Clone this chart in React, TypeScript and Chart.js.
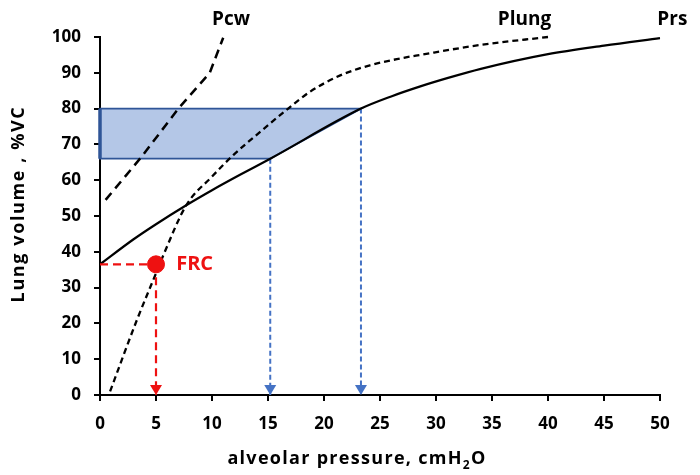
import React, { useEffect, useRef } from "react";
import { Chart, registerables } from "chart.js";

Chart.register(...registerables);

// ---- Data (pressure in cmH2O, volume in %VC) ----
const prsPressure = [0, 3, 5, 7.7, 10, 12.5, 15.2, 23.3, 26, 28.6, 31, 34, 40, 45, 50];
const prsVolume = [36.5, 43.5, 47.7, 53, 57.2, 61.5, 66, 80, 83.4, 86.2, 88.5, 91.1, 95.2, 97.6, 99.7];

const pcwPressure = [0.5, 3.7, 7, 9.8, 11];
const pcwVolume = [54.5, 66.5, 80, 90, 99.8];

const plungPressure = [0.9, 3.3, 5, 5.65, 7.7, 10, 11.9, 14.3, 16.8, 18.75, 21.4, 24.1, 26.8, 28.6, 34, 40];
const plungVolume = [1, 21, 34, 39, 53, 61, 67, 73.5, 80, 84.7, 89.2, 92.1, 94, 95, 97.8, 100];

// Shaded region between 66 and 80 %VC bounded by Prs
const areaPressure = [0, 23.3, 15.2, 0, 0];
const areaVolume = [80, 80, 66, 66, 80];

const frcPressure = 5;
const frcVolume = 36.5;
const lowPressure = 15.2;
const lowVolume = 66;
const highPressure = 23.3;
const highVolume = 80;

const curveNames = ["Pcw", "Plung", "Prs"];
const xTickValues = [0, 5, 10, 15, 20, 25, 30, 35, 40, 45, 50];
const yTickValues = [0, 10, 20, 30, 40, 50, 60, 70, 80, 90, 100];

const xTitle = ["alveolar pressure, cmH", "2", "O"];
const yTitle = "Lung volume , %VC";
const frcLabel = "FRC";

const FONT = "'Open Sans', 'Noto Sans', 'Liberation Sans', sans-serif";

const zip = (xs: number[], ys: number[]) => xs.map((x, i) => ({ x, y: ys[i] }));

const annotationPlugin = {
  id: "customAnnotations",
  afterDatasetsDraw(chart: any) {
    const ctx = chart.ctx;
    chart.data.datasets.forEach((ds: any, i: number) => {
      if (!ds.arrowHead) return;
      const meta = chart.getDatasetMeta(i);
      const pt = meta.data[meta.data.length - 1];
      if (!pt) return;
      const w = 6, h = 10;
      ctx.save();
      ctx.fillStyle = ds.borderColor;
      ctx.beginPath();
      ctx.moveTo(pt.x, pt.y);
      ctx.lineTo(pt.x - w, pt.y - h);
      ctx.lineTo(pt.x + w, pt.y - h);
      ctx.closePath();
      ctx.fill();
      ctx.restore();
    });
  },
  afterDraw(chart: any) {
    const ctx = chart.ctx;
    const xs = chart.scales.x;
    const ys = chart.scales.y;
    const opts = chart.options.plugins.customAnnotations;
    ctx.save();
    // curve labels
    ctx.font = `bold 19px ${FONT}`;
    ctx.fillStyle = "#000";
    ctx.textAlign = "center";
    ctx.textBaseline = "middle";
    opts.curveLabels.forEach((l: any, i: number) => {
      ctx.fillText(curveNames[i], xs.getPixelForValue(l.x), ys.getPixelForValue(l.y));
    });
    // FRC label
    ctx.fillStyle = "#ee1111";
    ctx.font = `bold 20px ${FONT}`;
    ctx.textAlign = "left";
    ctx.fillText(frcLabel, xs.getPixelForValue(opts.frcLabel.x), ys.getPixelForValue(opts.frcLabel.y));
    // x title with subscript
    ctx.fillStyle = "#000";
    (ctx as any).letterSpacing = "1.3px";
    const big = `bold 18px ${FONT}`;
    const small = `bold 12px ${FONT}`;
    ctx.font = big;
    const w0 = ctx.measureText(xTitle[0]).width;
    const w2 = ctx.measureText(xTitle[2]).width;
    ctx.font = small;
    const w1 = ctx.measureText(xTitle[1]).width;
    const total = w0 + w1 + w2;
    let sx = opts.xTitle.cx - total / 2;
    const by = opts.xTitle.baseline;
    ctx.textAlign = "left";
    ctx.textBaseline = "alphabetic";
    ctx.font = big;
    ctx.fillText(xTitle[0], sx, by);
    sx += w0;
    ctx.font = small;
    ctx.fillText(xTitle[1], sx, by + 5);
    sx += w1;
    ctx.font = big;
    ctx.fillText(xTitle[2], sx, by);
    // y title
    (ctx as any).letterSpacing = "1.6px";
    ctx.translate(opts.yTitle.cx, opts.yTitle.cy);
    ctx.rotate(-Math.PI / 2);
    ctx.font = big;
    ctx.textAlign = "center";
    ctx.textBaseline = "middle";
    ctx.fillText(yTitle, 0, 0);
    ctx.restore();
  },
};

export default function App() {
  const canvasRef = useRef<HTMLCanvasElement | null>(null);

  useEffect(() => {
    document.body.style.margin = "0";
    const canvas = canvasRef.current;
    if (!canvas) return;

    const blue = "#4472c4";
    const darkBlue = "#2f5597";
    const red = "#ee1111";

    const chart = new Chart(canvas, {
      type: "scatter",
      data: {
        datasets: [
          {
            label: "FRC point",
            data: [{ x: frcPressure, y: frcVolume }],
            pointRadius: 8.5,
            pointBackgroundColor: red,
            pointBorderColor: red,
            showLine: false,
            order: 0,
          } as any,
          {
            label: "Prs",
            data: zip(prsPressure, prsVolume),
            showLine: true,
            borderColor: "#000",
            borderWidth: 2.2,
            pointRadius: 0,
            cubicInterpolationMode: "monotone",
            order: 2,
          },
          {
            label: "Pcw",
            data: zip(pcwPressure, pcwVolume),
            showLine: true,
            borderColor: "#000",
            borderWidth: 2.5,
            borderDash: [9, 6],
            pointRadius: 0,
            tension: 0,
            order: 3,
          },
          {
            label: "Plung",
            data: zip(plungPressure, plungVolume),
            showLine: true,
            borderColor: "#000",
            borderWidth: 2.3,
            borderDash: [6, 4],
            pointRadius: 0,
            cubicInterpolationMode: "monotone",
            order: 3,
          },
          {
            label: "area edge",
            data: [
              { x: 0, y: lowVolume },
              { x: 0, y: highVolume },
            ],
            showLine: true,
            borderColor: darkBlue,
            borderWidth: 3.5,
            pointRadius: 0,
            order: 1,
          },
          {
            label: "area",
            data: zip(areaPressure, areaVolume),
            showLine: true,
            borderColor: darkBlue,
            borderWidth: 1.8,
            backgroundColor: "#b4c7e7",
            fill: "shape",
            pointRadius: 0,
            tension: 0,
            order: 6,
          } as any,
          {
            label: "low arrow",
            data: [
              { x: lowPressure, y: lowVolume },
              { x: lowPressure, y: 0 },
            ],
            showLine: true,
            borderColor: blue,
            borderWidth: 2,
            borderDash: [5, 3],
            pointRadius: 0,
            arrowHead: true,
            order: 4,
          } as any,
          {
            label: "high arrow",
            data: [
              { x: highPressure, y: highVolume },
              { x: highPressure, y: 0 },
            ],
            showLine: true,
            borderColor: blue,
            borderWidth: 2,
            borderDash: [5, 3],
            pointRadius: 0,
            arrowHead: true,
            order: 4,
          } as any,
          {
            label: "FRC horizontal",
            data: [
              { x: 0, y: frcVolume },
              { x: frcPressure, y: frcVolume },
            ],
            showLine: true,
            borderColor: red,
            borderWidth: 2.2,
            borderDash: [8, 5],
            pointRadius: 0,
            order: 1,
          },
          {
            label: "FRC vertical",
            data: [
              { x: frcPressure, y: frcVolume },
              { x: frcPressure, y: 0 },
            ],
            showLine: true,
            borderColor: red,
            borderWidth: 2.2,
            borderDash: [8, 5],
            pointRadius: 0,
            arrowHead: true,
            order: 1,
          } as any,
        ],
      },
      options: {
        animation: false,
        responsive: false,
        maintainAspectRatio: false,
        layout: { padding: { top: 37, right: 40, left: 0, bottom: 0 } },
        elements: { line: { borderCapStyle: "butt" } },
        datasets: { scatter: { clip: false } as any },
        plugins: {
          legend: { display: false },
          tooltip: { enabled: false },
          customAnnotations: {
            curveLabels: [
              { x: 11.7, y: 104.8 },
              { x: 37.9, y: 104.8 },
              { x: 51.1, y: 104.8 },
            ],
            frcLabel: { x: 6.8, y: 36.5 },
            xTitle: { cx: 357, baseline: 464 },
            yTitle: { cx: 19, cy: 204 },
          },
        } as any,
        scales: {
          x: {
            type: "linear",
            min: 0,
            max: 50,
            afterBuildTicks: (s: any) => {
              s.ticks = xTickValues.map((v) => ({ value: v }));
            },
            afterFit: (s: any) => {
              s.height = 80;
            },
            border: { display: true, color: "#000", width: 2 },
            grid: {
              display: true,
              drawOnChartArea: false,
              drawTicks: true,
              tickLength: 6,
              color: "#000",
              lineWidth: 2,
            },
            ticks: {
              color: "#000",
              font: { family: FONT, size: 17, weight: "bold" },
              padding: 13,
              maxRotation: 0,
            },
          },
          y: {
            type: "linear",
            min: 0,
            max: 100,
            afterBuildTicks: (s: any) => {
              s.ticks = yTickValues.map((v) => ({ value: v }));
            },
            afterFit: (s: any) => {
              s.width = 100;
            },
            border: { display: true, color: "#000", width: 2 },
            grid: {
              display: true,
              drawOnChartArea: false,
              drawTicks: true,
              tickLength: 6,
              color: "#000",
              lineWidth: 2,
            },
            ticks: {
              color: "#000",
              font: { family: FONT, size: 17, weight: "bold" },
              padding: 13,
            },
          },
        },
      },
      plugins: [annotationPlugin],
    });

    return () => chart.destroy();
  }, []);

  return (
    <div style={{ width: 700, height: 475, background: "#fff" }}>
      <canvas ref={canvasRef} width={700} height={475} />
    </div>
  );
}
